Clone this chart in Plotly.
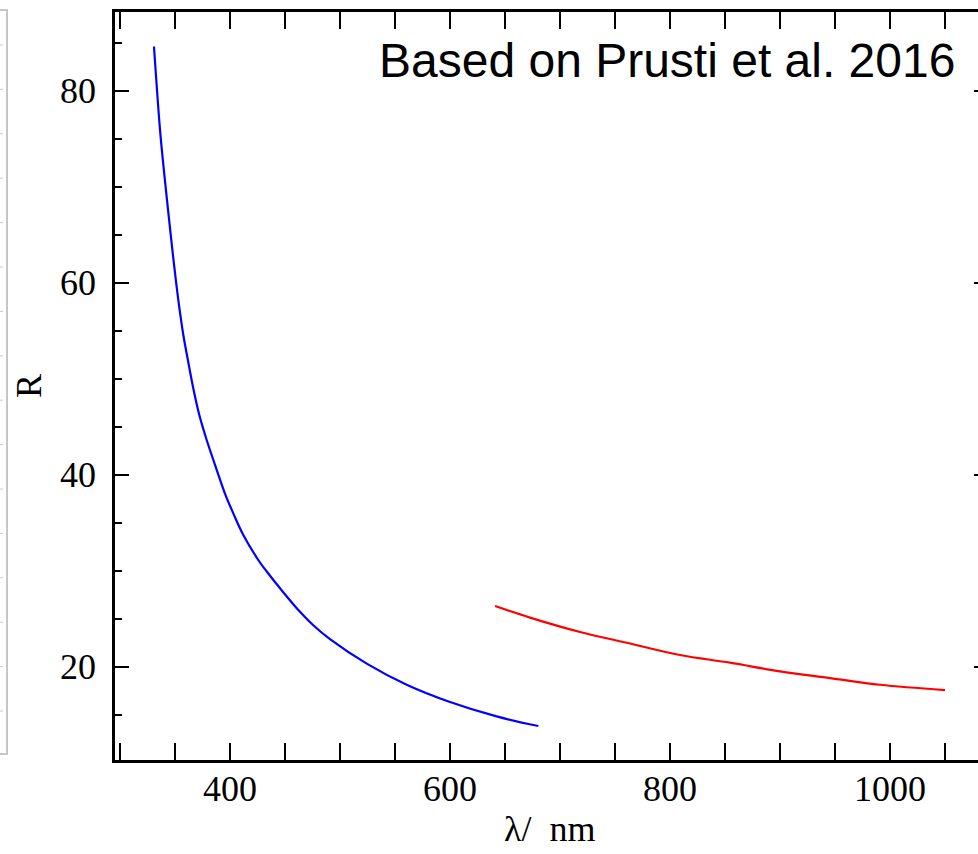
import plotly.graph_objects as go

# Data
blue_wl = [330.9, 336.4, 340.9, 346.1, 349.1, 353.0, 357.5, 362.1, 366.6,
           372.1, 378.8, 387.9, 395.5, 403.0, 412.1, 425.7, 433.4, 445.5, 463.6,
           475.7, 490.9, 524.3, 560.6, 600.0, 642.4, 680.3]
blue_R = [84.6, 75.9, 70.6, 65.0, 61.9, 58.2, 54.6, 51.7, 49.0,
          46.2, 43.6, 40.5, 38.0, 35.96, 33.7, 31.1, 29.9, 28.15, 25.7,
          24.3, 22.85, 20.3, 18.1, 16.3, 14.8, 13.8]
red_wl = [640.9, 672.7, 718.2, 763.6, 809.1, 854.5, 900.0, 945.5, 990.9, 1050.0]
red_R = [26.3, 25.1, 23.6, 22.4, 21.2, 20.4, 19.5, 18.8, 18.1, 17.55]

x_ticks = [400, 600, 800, 1000]
y_ticks = [20, 40, 60, 80]

W, H = 978, 854
ML, MR, MT, MB = 115, 0, 12, 94
PW, PH = W - ML - MR, H - MT - MB

def px_x(p):
    return (p - ML) / PW

def px_y(p):
    return (H - MB - p) / PH

XR = [295.45, 1080.0]
YR = [10.26, 88.2]

serif = "Liberation Serif"
tick_font = dict(family=serif, size=36, color="black")

fig = go.Figure()
fig.add_trace(go.Scatter(x=blue_wl, y=blue_R, mode="lines",
                         line=dict(color="#0000ff", width=2.2, shape="spline", smoothing=1.0),
                         showlegend=False))
fig.add_trace(go.Scatter(x=red_wl, y=red_R, mode="lines",
                         line=dict(color="#ff0000", width=2.2, shape="spline", smoothing=1.0),
                         showlegend=False))
# invisible traces holding the helper axes (right tick stubs, bottom labels)
fig.add_trace(go.Scatter(x=[XR[0]], y=[YR[0]], yaxis="y2", mode="markers",
                         marker=dict(opacity=0), showlegend=False, hoverinfo="skip"))
fig.add_trace(go.Scatter(x=[XR[0]], y=[YR[0]], xaxis="x2", mode="markers",
                         marker=dict(opacity=0), showlegend=False, hoverinfo="skip"))

shapes = [dict(type="rect", xref="paper", yref="paper",
               x0=px_x(-5), x1=px_x(7), y0=px_y(754), y1=px_y(10),
               line=dict(color="#b4b4b4", width=1.5), layer="above")]
for k in range(16):
    yy = 45 + 44.4 * k
    shapes.append(dict(type="line", xref="paper", yref="paper",
                       x0=px_x(0), x1=px_x(3), y0=px_y(yy), y1=px_y(yy),
                       line=dict(color="#c8c8c8", width=1)))

fig.update_layout(
    width=W, height=H,
    margin=dict(l=ML, r=MR, t=MT, b=MB, pad=0),
    paper_bgcolor="white", plot_bgcolor="white",
    showlegend=False,
    xaxis=dict(range=XR, tickvals=x_ticks, showticklabels=False,
               ticks="inside", ticklen=17, tickwidth=2, tickcolor="black",
               showline=True, linewidth=2.5, linecolor="black", mirror="allticks",
               showgrid=False, zeroline=False,
               minor=dict(dtick=50, tick0=0, ticks="inside", ticklen=8,
                          tickwidth=2, tickcolor="black", showgrid=False)),
    xaxis2=dict(range=XR, tickvals=x_ticks, ticktext=[str(v) for v in x_ticks],
                overlaying="x", anchor="free", position=px_y(747), side="bottom",
                ticks="", showline=False, showgrid=False, zeroline=False,
                tickfont=tick_font, ticklabelstandoff=17),
    yaxis=dict(range=YR, tickvals=y_ticks, ticktext=[str(v) for v in y_ticks],
               ticks="inside", ticklen=14, tickwidth=2, tickcolor="black",
               showline=True, linewidth=2.5, linecolor="black", mirror=False,
               showgrid=False, zeroline=False, tickfont=tick_font,
               ticklabelstandoff=9,
               minor=dict(dtick=5, tick0=0, ticks="inside", ticklen=7,
                          tickwidth=2, tickcolor="black", showgrid=False),
               title=dict(text="R", font=dict(family=serif, size=36,
                                               color="black"), standoff=8)),
    yaxis2=dict(range=YR, tickvals=y_ticks, overlaying="y", anchor="free",
                position=px_x(973), side="right", ticks="outside", ticklen=5,
                tickwidth=2, tickcolor="black", showticklabels=False,
                showline=False, showgrid=False, zeroline=False),
    shapes=shapes,
    annotations=[
        dict(text="Based on Prusti et al. 2016", xref="paper", yref="paper",
             x=px_x(957), y=px_y(60), xanchor="right", yanchor="middle",
             showarrow=False,
             font=dict(family="Liberation Sans", size=48, color="black")),
        dict(text="λ/\u2002nm", xref="paper", yref="paper",
             x=px_x(549), y=px_y(829), xanchor="center", yanchor="middle",
             showarrow=False, font=dict(family=serif, size=36, color="black")),
    ],
)

fig.write_html("out.html")
